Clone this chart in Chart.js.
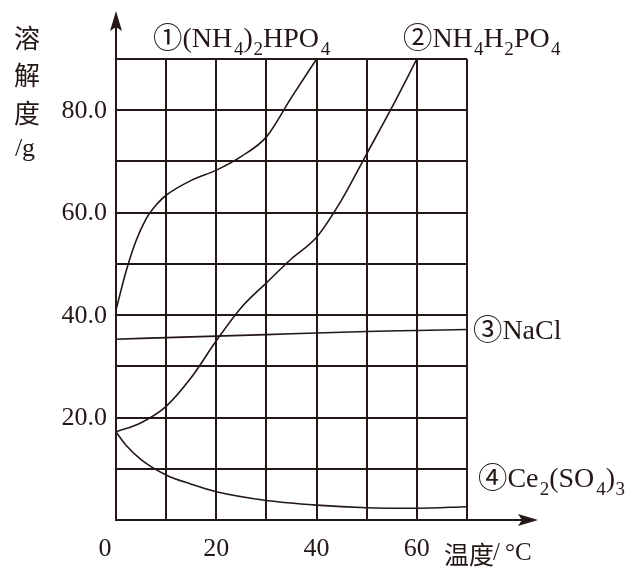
<!DOCTYPE html>
<html>
<head>
<meta charset="utf-8">
<script src="https://cdn.jsdelivr.net/npm/chart.js@4.4.1/dist/chart.umd.min.js"></script>
<style>
  html, body { margin: 0; padding: 0; background: #fff; }
  #wrap { width: 634px; height: 567px; }
</style>
</head>
<body>
<div id="wrap"><canvas id="chart" width="634" height="567"></canvas></div>
<script>
// temperature (°C) and solubility (g)
const tempA = [0, 2, 4, 6, 8, 10, 15, 20, 25, 30, 35, 40];
const solA  = [41, 48.5, 54.5, 58.8, 61.5, 63.4, 66.3, 68.3, 71, 74.8, 82.5, 90];

const tempB = [0, 5, 10, 15, 20, 25, 30, 35, 40, 45, 50, 55, 60];
const solB  = [17.2, 19, 22.2, 27.8, 35, 41.5, 46.3, 51, 55.2, 62.5, 71.5, 80.5, 90];

const tempC = [0, 10, 20, 30, 40, 50, 60, 70];
const solC  = [35.3, 35.6, 35.9, 36.2, 36.5, 36.8, 37.0, 37.2];

const tempD = [0, 2, 5, 10, 15, 20, 30, 40, 50, 60, 70];
const solD  = [17.2, 14.6, 11.8, 8.8, 7, 5.5, 3.8, 2.9, 2.4, 2.3, 2.6];

const xTicks = [0, 20, 40, 60];
const yTicks = [20, 40, 60, 80];

// series names: [text, kind] with kind 0 normal, 1 subscript, 2 circled number
const nameA = [['①', 2], ['(NH', 0], ['4', 1], [')', 0], ['2', 1], ['HPO', 0], ['4', 1]];
const nameB = [['②', 2], ['NH', 0], ['4', 1], ['H', 0], ['2', 1], ['PO', 0], ['4', 1]];
const nameC = [['③', 2], ['NaCl', 0]];
const nameD = [['④', 2], ['Ce', 0], ['2', 1], ['(SO', 0], ['4', 1], [')', 0], ['3', 1]];

const ink = '#231816';
const serif = '"Liberation Serif", "DejaVu Serif", serif';
const cjk = '"Noto Sans CJK SC", "Noto Sans", sans-serif';

function pts(xs, ys) {
  return xs.map((x, i) => ({ x: x, y: ys[i] }));
}

function series(data) {
  return {
    data: data,
    borderColor: ink,
    borderWidth: 1.6,
    pointRadius: 0,
    fill: false,
    cubicInterpolationMode: 'monotone',
  };
}

function drawRich(ctx, segs, x, y, size) {
  let cx = x;
  segs.forEach(([t, kind]) => {
    let s = size, dy = 0;
    if (kind === 1) { s = size * 0.68; dy = size * 0.3; }
    if (kind === 2) { s = size * 1.05; dy = size * 0.02; }
    ctx.font = s + 'px ' + (kind === 2 ? cjk : serif);
    ctx.fillText(t, cx, y + dy);
    cx += ctx.measureText(t).width + (kind === 0 ? 0.6 * t.length : 0);
  });
}

const decorations = {
  id: 'decorations',
  afterDraw(chart) {
    const ctx = chart.ctx;
    const xs = chart.scales.x, ys = chart.scales.y;
    const x0 = xs.getPixelForValue(0), y0 = ys.getPixelForValue(0);
    ctx.save();
    ctx.fillStyle = ink;
    ctx.strokeStyle = ink;
    ctx.lineWidth = 2;

    // axis lines with arrows
    ctx.beginPath();
    ctx.moveTo(x0, y0);
    ctx.lineTo(x0, 24);
    ctx.moveTo(x0, y0);
    ctx.lineTo(526, y0);
    ctx.stroke();
    ctx.beginPath();
    ctx.moveTo(x0, 11);
    ctx.lineTo(x0 - 6, 31);
    ctx.lineTo(x0, 27);
    ctx.lineTo(x0 + 6, 31);
    ctx.closePath();
    ctx.fill();
    ctx.beginPath();
    ctx.moveTo(538, y0);
    ctx.lineTo(518, y0 - 6);
    ctx.lineTo(522, y0);
    ctx.lineTo(518, y0 + 6);
    ctx.closePath();
    ctx.fill();

    // tick labels
    ctx.font = '26px ' + serif;
    ctx.textBaseline = 'middle';
    ctx.textAlign = 'right';
    yTicks.forEach(v => ctx.fillText(v.toFixed(1), 107, ys.getPixelForValue(v) + 1));
    ctx.textAlign = 'center';
    xTicks.forEach(v => {
      const px = xs.getPixelForValue(v) - (v === 0 ? 11 : 0);
      ctx.fillText(String(v), px, 549);
    });

    // axis titles
    ctx.font = '26px ' + cjk;
    ['溶', '解', '度'].forEach((c, i) => ctx.fillText(c, 27, 38 + i * 37.5));
    ctx.font = '26px ' + serif;
    ctx.fillText('/g', 25, 149);
    ctx.textAlign = 'left';
    ctx.font = '25px ' + cjk;
    ctx.fillText('温度', 444, 554);
    ctx.font = '25px ' + serif;
    ctx.fillText('/', 493, 553);
    ctx.fillText('°C', 505, 553);

    // series names
    ctx.textBaseline = 'alphabetic';
    drawRich(ctx, nameA, 153, 47, 28);
    drawRich(ctx, nameB, 403, 47, 28);
    drawRich(ctx, nameC, 473, 339, 28);
    drawRich(ctx, nameD, 478, 487, 28);
    ctx.restore();
  }
};

new Chart(document.getElementById('chart'), {
  type: 'line',
  data: {
    datasets: [
      series(pts(tempA, solA)),
      series(pts(tempB, solB)),
      series(pts(tempC, solC)),
      series(pts(tempD, solD)),
    ],
  },
  options: {
    responsive: false,
    animation: false,
    events: [],
    layout: { padding: { left: 116, right: 167, top: 59, bottom: 47 } },
    plugins: { legend: { display: false }, tooltip: { enabled: false } },
    scales: {
      x: {
        type: 'linear',
        min: 0,
        max: 70,
        ticks: { display: false, stepSize: 10 },
        grid: { color: ink, lineWidth: 2, drawTicks: false },
        border: { color: ink, width: 2 },
      },
      y: {
        type: 'linear',
        min: 0,
        max: 90,
        ticks: { display: false, stepSize: 10 },
        grid: { color: ink, lineWidth: 2, drawTicks: false },
        border: { color: ink, width: 2 },
      },
    },
  },
  plugins: [decorations],
});
</script>
</body>
</html>
